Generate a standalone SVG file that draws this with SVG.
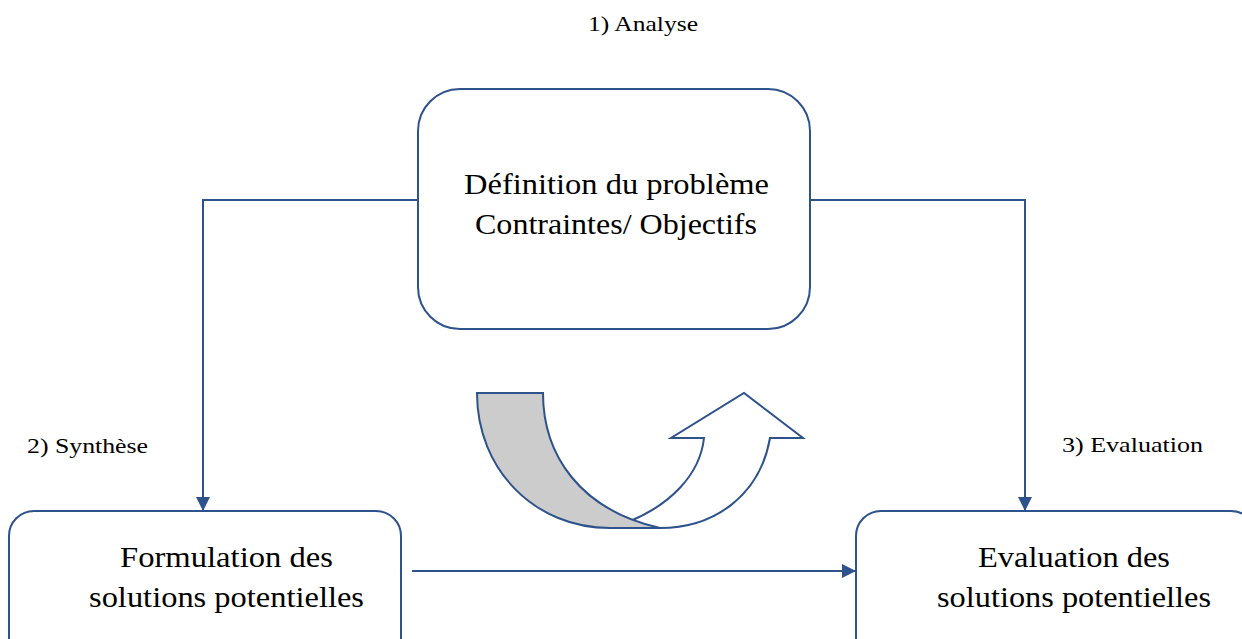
<svg xmlns="http://www.w3.org/2000/svg" width="1242" height="639" viewBox="0 0 1242 639">
<style>
.box{fill:#fff;stroke:#2E528C;stroke-width:2}
.con{fill:none;stroke:#2E528C;stroke-width:2}
.t{font-family:"Liberation Serif",serif;font-size:29px;fill:#000}
.lbl{font-family:"Liberation Serif",serif;font-size:22px;fill:#000}
</style>
<defs>
<marker id="ah2" markerWidth="14" markerHeight="14" refX="14" refY="7" orient="auto" markerUnits="userSpaceOnUse" viewBox="0 0 14 14">
<path d="M0,0 L14,7 L0,14 Z" fill="#2E528C"/>
</marker>
</defs>
<rect width="1242" height="639" fill="#fff"/>
<g id="connectors">
<path class="con" d="M418,200 H203 V511" marker-end="url(#ah2)"/>
<path class="con" d="M810,200 H1025 V511" marker-end="url(#ah2)"/>
<path class="con" d="M412,571 H856" marker-end="url(#ah2)"/>
</g>
<g id="node-definition">
<rect class="box" x="418" y="89" width="392" height="240" rx="42"/>
<text class="t" x="464" y="194" textLength="305" lengthAdjust="spacingAndGlyphs">Définition du problème</text>
<text class="t" x="475" y="234" textLength="282" lengthAdjust="spacingAndGlyphs">Contraintes/ Objectifs</text>
</g>
<g id="node-formulation">
<rect class="box" x="9" y="511" width="392" height="160" rx="25"/>
<text class="t" x="120" y="567" textLength="213" lengthAdjust="spacingAndGlyphs">Formulation des</text>
<text class="t" x="89" y="607" textLength="275" lengthAdjust="spacingAndGlyphs">solutions potentielles</text>
</g>
<g id="node-evaluation">
<rect class="box" x="856" y="511" width="400" height="160" rx="25"/>
<text class="t" x="978" y="567" textLength="192" lengthAdjust="spacingAndGlyphs">Evaluation des</text>
<text class="t" x="937" y="607" textLength="274" lengthAdjust="spacingAndGlyphs">solutions potentielles</text>
</g>
<g id="cycle-arrow">
<path d="M628,522 C670,505 700,475 704,438 L671,438 L744,393 L803,438 L770,438 C760,495 715,528 660,528 L650,528 Z" fill="#fff" stroke="#2E528C" stroke-width="2"/>
<path d="M477,393 L543,393 C543,455 580,510 660,528 L610,528 C535,528 477,470 477,393 Z" fill="#CCCCCC" stroke="#2E528C" stroke-width="2"/>
</g>
<g id="labels">
<text class="lbl" x="588" y="31" textLength="110" lengthAdjust="spacingAndGlyphs">1) Analyse</text>
<text class="lbl" x="27" y="453" textLength="121" lengthAdjust="spacingAndGlyphs">2) Synthèse</text>
<text class="lbl" x="1062" y="452" textLength="141" lengthAdjust="spacingAndGlyphs">3) Evaluation</text>
</g>
</svg>
